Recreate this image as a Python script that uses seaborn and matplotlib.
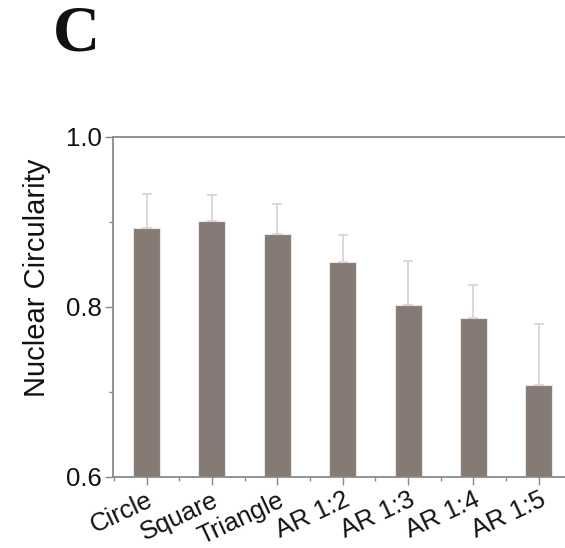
import matplotlib
matplotlib.use("Agg")
import matplotlib.pyplot as plt
from matplotlib.ticker import MultipleLocator, FixedLocator
import seaborn as sns
import pandas as pd
import numpy as np

categories = ["Circle", "Square", "Triangle", "AR 1:2", "AR 1:3", "AR 1:4", "AR 1:5"]
means = [0.892, 0.901, 0.886, 0.852, 0.802, 0.787, 0.708]
err_up = [0.041, 0.030, 0.035, 0.032, 0.052, 0.039, 0.072]
y_ticks = [0.6, 0.8, 1.0]
y_label = "Nuclear Circularity"
panel = "C"

sns.set_theme(style="white")
plt.rcParams["font.family"] = ["Liberation Sans", "DejaVu Sans"]

df = pd.DataFrame({"shape": categories, "circ": means})

fig = plt.figure(figsize=(5.65, 5.48), dpi=100)
ax = fig.add_axes([0.2005, 0.1301, 0.7995, 0.6205])

bar_color = "#857b74"
sns.barplot(data=df, x="shape", y="circ", color=bar_color, width=0.413,
            saturation=1, edgecolor="#ece6e2", linewidth=0.8, ax=ax, errorbar=None)
ax.errorbar(categories, means, yerr=[np.zeros(len(means)), err_up], fmt="none",
            ecolor="#d9d1d0", elinewidth=1.2, capsize=3.5, capthick=1.2, zorder=1)

ax.set_ylim(0.6, 1.0)
ax.set_xlim(-0.51, 6.40)
ax.yaxis.set_major_locator(FixedLocator(y_ticks))
ax.yaxis.set_minor_locator(MultipleLocator(0.1))
ax.set_yticklabels([f"{v:.1f}" for v in y_ticks])
ax.xaxis.set_minor_locator(FixedLocator(np.arange(-0.5, 7, 1.0)))

spine_c = "#8a8a8a"
for s in ["left", "top", "bottom"]:
    ax.spines[s].set_visible(True)
    ax.spines[s].set_color(spine_c)
    ax.spines[s].set_linewidth(1.3)
ax.spines["right"].set_visible(False)

ax.tick_params(axis="both", which="major", length=6, width=1.0, color=spine_c,
               labelsize=18.5, labelcolor="#111111", pad=2)
ax.tick_params(axis="both", which="minor", length=3, width=1.0, color=spine_c)
ax.tick_params(axis="x", which="both", bottom=True, direction="out")
ax.tick_params(axis="y", which="both", left=True, direction="out")
ax.set_xticks(range(len(categories)))
ax.set_xticklabels(categories, rotation=25, ha="right", rotation_mode="anchor")
for t in ax.get_xticklabels():
    t.set_fontsize(18.5)

ax.set_xlabel("")
ax.set_ylabel(y_label, fontsize=21, color="#111111")
ax.yaxis.set_label_coords(-0.137, 0.585)

fig.text(0.094, 0.908, panel, fontsize=47, fontweight="bold",
         family=["Liberation Serif", "DejaVu Serif"], color="#111111")

fig.savefig("out.png", dpi=100)
